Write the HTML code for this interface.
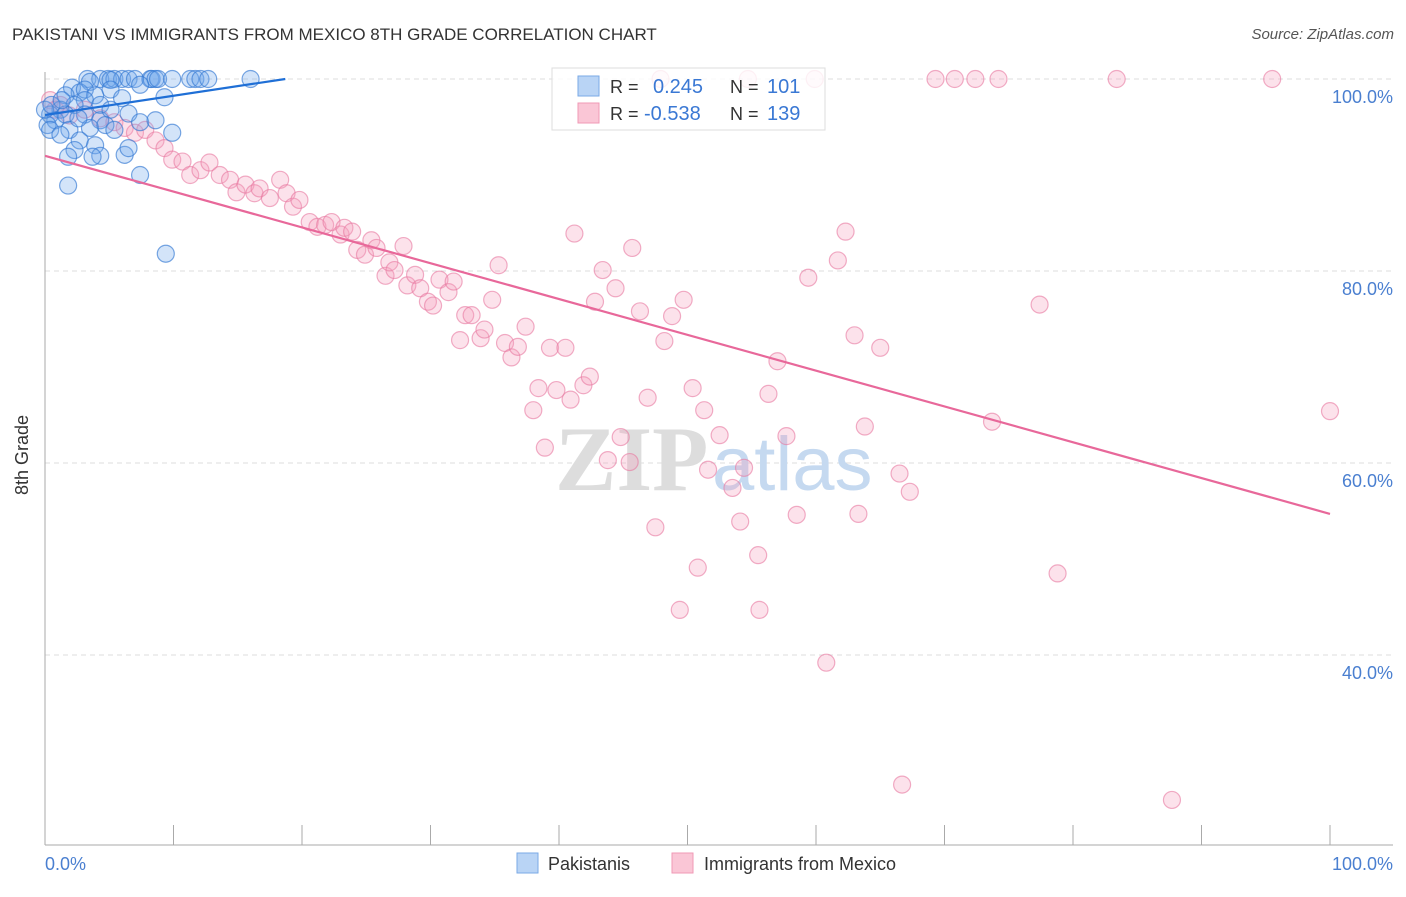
<!DOCTYPE html>
<html><head><meta charset="utf-8"><style>
body{margin:0;background:#fff;font-family:"Liberation Sans",sans-serif;}
</style></head><body>
<svg width="1406" height="892" xmlns="http://www.w3.org/2000/svg" font-family="Liberation Sans, sans-serif">
<text x="12" y="40" font-size="17" fill="#333">PAKISTANI VS IMMIGRANTS FROM MEXICO 8TH GRADE CORRELATION CHART</text>
<text x="1394" y="39" font-size="15" fill="#555" font-style="italic" text-anchor="end">Source: ZipAtlas.com</text>
<g id="grid"></g>
<g><text x="555" y="490" font-size="92" fill="#ddd" font-family="Liberation Serif, serif" font-weight="bold">ZIP</text><text x="712" y="490" font-size="76" fill="#c5d9f0">atlas</text></g>
<g id="axes"></g>
<g id="pink"></g>
<g id="blue"></g>
<g id="lines"></g>
<text x="28" y="455" font-size="18" fill="#333" text-anchor="middle" transform="rotate(-90 28 455)">8th Grade</text>
<text x="45" y="870" font-size="18" fill="#4a7fd0">0.0%</text>
<text x="1393" y="870" font-size="18" fill="#4a7fd0" text-anchor="end">100.0%</text>
<g>
<rect x="552" y="68" width="273" height="62" fill="rgba(255,255,255,0.82)" stroke="#ddd"/>
<rect x="578" y="76" width="21" height="20" fill="#b9d4f5" stroke="#7aaae6"/>
<rect x="578" y="103" width="21" height="20" fill="#fac6d6" stroke="#f099b6"/>
<text x="610" y="93" font-size="18" fill="#333">R = </text><text x="653" y="93" font-size="20" fill="#3a78d4">0.245</text>
<text x="730" y="93" font-size="18" fill="#333">N = </text><text x="767" y="93" font-size="20" fill="#3a78d4">101</text>
<text x="610" y="120" font-size="18" fill="#333">R = </text><text x="644" y="120" font-size="20" fill="#3a78d4">-0.538</text>
<text x="730" y="120" font-size="18" fill="#333">N = </text><text x="767" y="120" font-size="20" fill="#3a78d4">139</text>
</g>
<g>
<rect x="517" y="853" width="21" height="20" fill="#b9d4f5" stroke="#7aaae6"/>
<text x="548" y="870" font-size="18" fill="#333">Pakistanis</text>
<rect x="672" y="853" width="21" height="20" fill="#fac6d6" stroke="#f099b6"/>
<text x="704" y="870" font-size="18" fill="#333">Immigrants from Mexico</text>
</g>
</svg>
<script>
const yTicks=[100,80,60,40];
const yTickLabels=["100.0%","80.0%","60.0%","40.0%"];
const xTicks=[0,10,20,30,40,50,60,70,80,90,100];
const blueX=[3.3,4.3,4.9,5.4,6.0,6.5,7.0,8.2,8.3,8.6,8.8,9.9,11.3,11.7,12.1,12.7,16.0,5.1,3.5,2.1,2.7,3.1,3.9,5.1,6.0,7.4,9.3,3.1,1.6,2.3,4.3,1.2,0.4,0.8,0.2,1.6,3.1,4.3,5.1,6.5,7.4,1.9,3.5,4.7,0.4,1.2,2.7,3.9,2.3,4.3,6.2,6.5,1.8,3.7,7.4,1.8,9.9,9.4,8.6,0,0.5,1.3,2.6,5.4];
const blueY=[100,100,100,100,100,100,100,100,100,100,100,100,100,100,100,100,100,99.9,99.7,99.1,98.6,98.9,98.3,98.9,98.0,99.4,98.1,97.8,98.3,97.3,97.3,96.8,96.3,95.7,95.2,96.3,96.3,95.7,96.8,96.4,95.5,94.7,94.9,95.2,94.7,94.2,93.6,93.1,92.6,92.0,92.1,92.8,91.9,91.9,90.0,88.9,94.4,81.8,95.7,96.8,97.3,97.8,95.9,94.7];
const pinkX=[47.9,54.7,59.9,69.3,70.8,72.4,74.2,83.4,95.5,0.4,0.8,1.2,1.9,3.1,4.3,5.4,6.2,7.0,7.8,8.6,9.3,9.9,10.7,11.3,12.1,12.8,13.6,14.4,14.9,15.6,16.3,16.7,17.5,18.3,18.8,19.3,19.8,20.6,21.2,21.8,22.3,23.0,23.3,23.9,24.3,24.9,25.4,25.8,26.5,26.8,27.2,27.9,28.2,28.8,29.2,29.8,30.2,30.7,31.4,31.8,32.7,32.3,33.2,33.9,34.2,34.8,35.3,35.8,36.3,36.8,37.4,38.0,38.4,38.9,39.3,39.8,40.5,40.9,41.2,41.9,42.4,42.8,43.4,43.8,44.4,44.8,45.5,45.7,46.3,46.9,47.5,48.2,48.8,49.4,49.7,50.4,50.8,51.3,51.6,52.5,53.5,54.1,54.4,55.5,55.6,56.3,57.0,57.7,58.5,59.4,60.8,61.7,62.3,63.0,63.3,63.8,65.0,66.5,66.7,67.3,73.7,77.4,78.8,87.7,100];
const pinkY=[100,100,100,100,100,100,100,100,100,97.8,96.8,97.3,96.2,96.8,95.9,95.5,94.9,94.4,94.7,93.6,92.8,91.6,91.4,90.0,90.5,91.3,90.0,89.5,88.2,89.0,88.1,88.6,87.6,89.5,88.1,86.7,87.4,85.1,84.6,84.8,85.1,83.8,84.5,84.1,82.2,81.7,83.2,82.4,79.5,80.9,80.1,82.6,78.5,79.6,78.2,76.8,76.4,79.1,77.8,78.9,75.4,72.8,75.4,73.0,73.9,77.0,80.6,72.5,71.0,72.1,74.2,65.5,67.8,61.6,72.0,67.6,72.0,66.6,83.9,68.1,69.0,76.8,80.1,60.3,78.2,62.7,60.1,82.4,75.8,66.8,53.3,72.7,75.3,44.7,77.0,67.8,49.1,65.5,59.3,62.9,57.4,53.9,59.5,50.4,44.7,67.2,70.6,62.8,54.6,79.3,39.2,81.1,84.1,73.3,54.7,63.8,72.0,58.9,26.5,57.0,64.3,76.5,48.5,24.9,65.4];
const blueTrend=[0,96.25,18.7,100];
const pinkTrend=[0,92.0,100,54.7];
const NS="http://www.w3.org/2000/svg";
function sx(v){return 45+v*12.85;}
function sy(v){return 1039-v*9.6;}
function mk(tag,attrs,parent){const e=document.createElementNS(NS,tag);for(const k in attrs)e.setAttribute(k,attrs[k]);parent.appendChild(e);return e;}
const grid=document.getElementById('grid');
yTicks.forEach((t,i)=>{
  const l=mk('line',{x1:45,x2:1393,y1:sy(t),y2:sy(t),stroke:'#ddd','stroke-dasharray':'5,4'},grid);
  
  
  const tx=mk('text',{x:1393,y:sy(t)+24,'font-size':18,fill:'#4a7fd0','text-anchor':'end'},grid);
  tx.textContent=yTickLabels[i];
  
  
});
const axes=document.getElementById('axes');
mk('line',{x1:45,x2:45,y1:72,y2:845,stroke:'#aaa'},axes);
mk('line',{x1:45,x2:1393,y1:845,y2:845,stroke:'#aaa'},axes);
xTicks.forEach(t=>{
  const l=mk('line',{x1:sx(t),x2:sx(t),y1:825,y2:845,stroke:'#aaa'},axes);
  
  
});
const pink=document.getElementById('pink');
pinkX.forEach((x,i)=>{
  const c=mk('circle',{cx:sx(x),cy:sy(pinkY[i]),r:8.5,fill:'rgba(245,160,190,0.3)',stroke:'rgba(232,120,160,0.6)','stroke-width':1.2},pink);
  
  
});
const blue=document.getElementById('blue');
blueX.forEach((x,i)=>{
  const c=mk('circle',{cx:sx(x),cy:sy(blueY[i]),r:8.5,fill:'rgba(110,165,235,0.3)',stroke:'rgba(50,120,210,0.65)','stroke-width':1.2},blue);
  
  
});
const lines=document.getElementById('lines');
const bl=mk('line',{x1:sx(blueTrend[0]),y1:sy(blueTrend[1]),x2:sx(blueTrend[2]),y2:sy(blueTrend[3]),stroke:'#1f6fd6','stroke-width':2.2},lines);


const pl=mk('line',{x1:sx(pinkTrend[0]),y1:sy(pinkTrend[1]),x2:sx(pinkTrend[2]),y2:sy(pinkTrend[3]),stroke:'#e8689a','stroke-width':2.2},lines);


</script>
</body></html>
